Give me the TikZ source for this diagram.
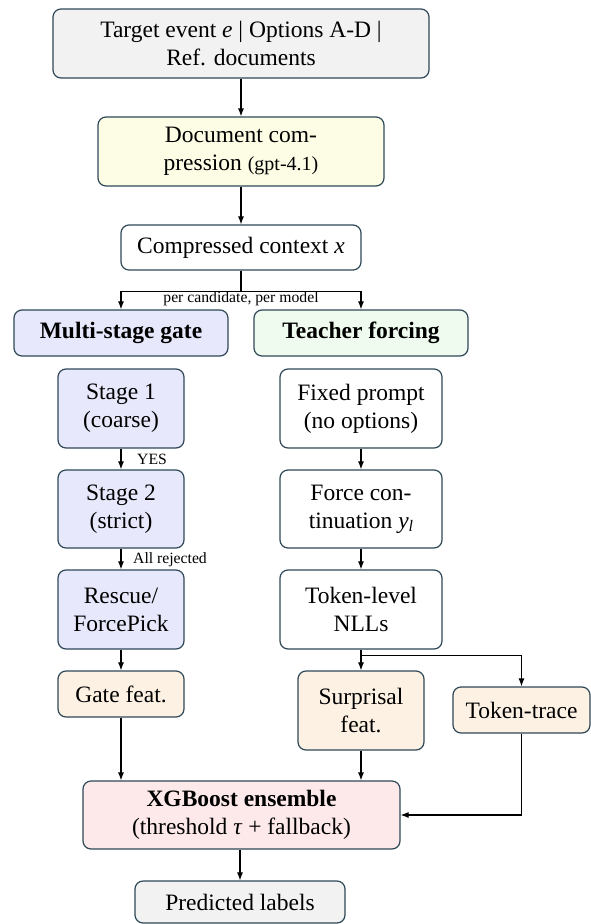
\documentclass[tikz,border=0pt]{standalone}
\usepackage{fontspec}
\setmainfont{Liberation Serif}
\usetikzlibrary{arrows.meta}
\definecolor{bordc}{HTML}{2F4858}
\definecolor{grayf}{HTML}{F2F2F2}
\definecolor{yelf}{HTML}{FDFDE6}
\definecolor{lavf}{HTML}{E8E8FC}
\definecolor{grnf}{HTML}{EFFBEF}
\definecolor{peachf}{HTML}{FDF1E4}
\definecolor{pinkf}{HTML}{FDE9EA}
\tikzset{
  box/.style={draw=bordc, line width=1.2pt, rounded corners=8pt, align=center,
    inner sep=2pt, font=\fontsize{23.5}{28}\selectfont, text=black},
  arr/.style={-{Latex[length=8pt,width=6pt]}, line width=1.1pt, draw=black},
  lab/.style={font=\fontsize{15.7}{18}\selectfont, inner sep=1pt}
}
\begin{document}
\begin{tikzpicture}[x=1pt,y=-1pt]
\useasboundingbox (0,0) rectangle (591,924);
% nodes
\node[box, fill=grayf, minimum width=376pt, minimum height=69pt] (top) at (241,43.5)
  {Target event \textit{e} | Options A-D |\\Ref. documents};
\node[box, fill=yelf, minimum width=286pt, minimum height=69pt] (doc) at (241,151.5)
  {Document com-\\pression {\fontsize{20}{24}\selectfont (gpt-4.1)}};
\node[box, fill=white, minimum width=240pt, minimum height=45pt] (ctx) at (241,247.5)
  {Compressed context \textit{x}};
\node[box, fill=lavf, minimum width=214pt, minimum height=46pt] (gate) at (121,333)
  {\textbf{Multi-stage gate}};
\node[box, fill=grnf, minimum width=214pt, minimum height=46pt] (tf) at (361,333)
  {\textbf{Teacher forcing}};
\node[box, fill=lavf, minimum width=126pt, minimum height=79pt] (s1) at (121,408.5)
  {Stage 1\\(coarse)};
\node[box, fill=lavf, minimum width=126pt, minimum height=78pt] (s2) at (121,509)
  {Stage 2\\(strict)};
\node[box, fill=lavf, minimum width=126pt, minimum height=79pt] (rescue) at (121,609.5)
  {Rescue/\\ForcePick};
\node[box, fill=white, minimum width=162pt, minimum height=79pt] (fp) at (361,408.5)
  {Fixed prompt\\(no options)};
\node[box, fill=white, minimum width=162pt, minimum height=78pt] (fc) at (361,509)
  {Force con-\\tinuation \textit{y}\raisebox{-0.3ex}{\fontsize{16}{16}\selectfont\textit{l}}};
\node[box, fill=white, minimum width=162pt, minimum height=79pt] (nll) at (361,609.5)
  {Token-level\\NLLs};
\node[box, fill=peachf, minimum width=126pt, minimum height=46pt] (gf) at (121,694)
  {Gate feat.};
\node[box, fill=peachf, minimum width=126pt, minimum height=79pt] (sf) at (361,710.5)
  {Surprisal\\feat.};
\node[box, fill=peachf, minimum width=137pt, minimum height=46pt] (tt) at (521.5,710)
  {Token-trace};
\node[box, fill=pinkf, minimum width=317pt, minimum height=68pt] (xgb) at (241.5,815)
  {\textbf{XGBoost ensemble}\\(threshold \textit{τ} + fallback)};
\node[box, fill=grayf, minimum width=210pt, minimum height=42pt] (pred) at (240,902)
  {Predicted labels};
% labels
\node[lab] (lper) at (241,299) {per candidate, per model};
\node[lab] (lyes) at (152,459) {YES};
\node[lab] (lrej) at (170,560) {All rejected};
% connectors
\draw[arr] (top) -- (doc);
\draw[arr] (doc) -- (ctx);
\draw[arr] (ctx.south) -- ++(0,21) -| (gate.north);
\draw[arr] (ctx.south) -- ++(0,21) -| (tf.north);
\draw[arr] (s1) -- (s2);
\draw[arr] (s2) -- (rescue);
\draw[arr] (rescue) -- (gf);
\draw[arr] (fp) -- (fc);
\draw[arr] (fc) -- (nll);
\draw[arr] (nll.south) -- (sf.north);
\draw[arr] (nll.south) -- ++(0,6) -| (tt.north);
\draw[arr] (gf.south) -- (gf.south |- xgb.north);
\draw[arr] (sf.south) -- (sf.south |- xgb.north);
\draw[arr] (tt.south) |- (xgb.east);
\draw[arr] (xgb.south -| pred.north) -- (pred.north);
\end{tikzpicture}
\end{document}
